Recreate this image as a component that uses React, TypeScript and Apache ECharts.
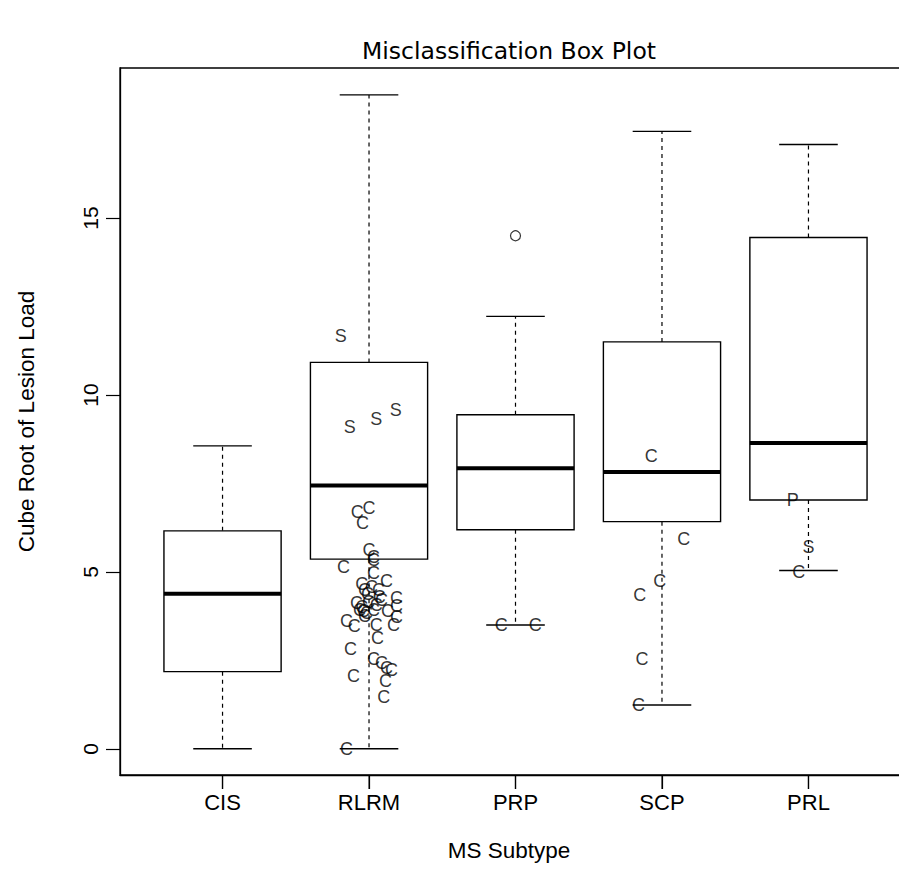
import React, { useEffect, useRef } from "react";
import * as echarts from "echarts";

const categories = ["CIS", "RLRM", "PRP", "SCP", "PRL"];
const whiskerLow = [0, 0, 3.5, 1.24, 5.04];
const q1 = [2.18, 5.36, 6.19, 6.42, 7.03];
const median = [4.38, 7.44, 7.93, 7.82, 8.64];
const q3 = [6.16, 10.92, 9.44, 11.5, 14.45];
const whiskerHigh = [8.56, 18.48, 12.22, 17.45, 17.08];
const outliers = [[3, 14.5]];

const yTicks = [0, 5, 10, 15];
const xTicks = [1, 2, 3, 4, 5];
const Y_MIN = -0.74;
const Y_MAX = 19.24;

const cPoints = [
  [1.92, 6.69], [2.0, 6.81], [1.955, 6.38], [2.0, 5.62], [2.03, 5.42], [2.03, 5.34],
  [1.826, 5.14], [2.03, 4.97], [2.12, 4.75], [1.95, 4.66], [2.017, 4.58], [1.97, 4.49],
  [2.065, 4.49], [1.99, 4.38], [2.07, 4.29], [2.187, 4.27], [2.085, 4.21], [1.914, 4.12],
  [1.996, 4.15], [2.05, 4.07], [2.187, 4.04], [2.126, 3.9], [1.935, 3.93], [1.962, 3.9],
  [1.983, 3.84], [2.03, 3.93], [2.187, 3.73], [1.846, 3.62], [1.9, 3.47], [2.05, 3.5],
  [2.167, 3.5], [2.058, 3.14], [1.873, 2.82], [2.03, 2.54], [2.085, 2.43], [2.12, 2.29],
  [2.153, 2.23], [1.894, 2.06], [2.112, 1.92], [2.1, 1.47], [1.846, 0], [1.95, 4.01],
  [1.97, 3.76],
  [2.903, 3.5], [3.135, 3.5],
  [3.927, 8.28], [4.148, 5.92], [3.984, 4.75], [3.848, 4.35], [3.863, 2.54], [3.84, 1.24],
  [4.933, 5.01],
];
const sPoints = [[1.807, 11.67], [1.869, 9.1], [2.05, 9.31], [2.183, 9.58], [5.0, 5.71]];
const pPoints = [[4.892, 7.03]];

const FONT = "'Liberation Sans', Arial, Helvetica, sans-serif";

function letterSeries(data: number[][], ch: string) {
  return {
    type: "scatter",
    data,
    symbolSize: 1,
    itemStyle: { color: "rgba(0,0,0,0)" },
    label: {
      show: true,
      position: "inside",
      formatter: ch,
      fontSize: 18,
      color: "#000",
      fontFamily: FONT,
    },
    z: 5,
    silent: true,
  };
}

export default function App() {
  const ref = useRef<HTMLDivElement>(null);
  useEffect(() => {
    if (!ref.current) return;
    const chart = echarts.init(ref.current, null, { renderer: "svg" });
    const boxData = categories.map((c, i) => [
      xTicks[i], whiskerLow[i], q1[i], median[i], q3[i], whiskerHigh[i],
    ]);
    const tickMarks = xTicks.map((t) => [t, Y_MIN]);
    const option: any = {
      animation: false,
      backgroundColor: "#fff",
      title: {
        text: "Misclassification Box Plot",
        left: 504,
        textAlign: "center",
        top: 34,
        textStyle: { fontFamily: "'DejaVu Sans', sans-serif", fontWeight: "normal", fontSize: 23.5, color: "#000" },
      },
      grid: {
        left: 120, top: 68, width: 791, height: 707,
        show: true, borderColor: "#000", borderWidth: 1.3, backgroundColor: "#fff",
      },
      xAxis: {
        type: "value", min: 0.3, max: 5.7, position: "bottom",
        axisLine: { show: true, onZero: false, lineStyle: { color: "#000", width: 1.3 } },
        splitLine: { show: false },
        axisTick: { show: true, inside: false, customValues: xTicks, length: 14, lineStyle: { color: "#000", width: 1.2 } },
        axisLabel: {
          customValues: xTicks,
          formatter: (v: number) => categories[Math.round(v) - 1] ?? "",
          margin: 16, fontSize: 22, color: "#000", fontFamily: FONT,
        },
        name: "MS Subtype", nameLocation: "middle", nameGap: 64,
        nameTextStyle: { fontSize: 22.5, color: "#000", fontFamily: FONT, padding: [0, 13, 0, 0] },
      },
      yAxis: {
        type: "value", min: Y_MIN, max: Y_MAX, position: "left",
        axisLine: { show: true, onZero: false, lineStyle: { color: "#000", width: 1.3 } },
        splitLine: { show: false },
        axisTick: { show: true, inside: false, customValues: yTicks, length: 14, lineStyle: { color: "#000", width: 1.2 } },
        axisLabel: {
          customValues: yTicks, rotate: 90, margin: 19,
          fontSize: 21, color: "#000", fontFamily: FONT,
        },
        name: "Cube Root of Lesion Load", nameLocation: "middle", nameGap: 82,
        nameTextStyle: { fontSize: 22.5, color: "#000", fontFamily: FONT },
      },
      series: [
        {
          type: "scatter",
          data: tickMarks,
          symbol: "rect",
          symbolSize: [1.3, 14],
          symbolOffset: [0, 7],
          itemStyle: { color: "#000" },
          clip: false,
          silent: true,
          z: 6,
        },
        {
          type: "custom",
          data: boxData,
          encode: { x: 0, y: [1, 2, 3, 4, 5] },
          silent: true,
          clip: false,
          z: 2,
          renderItem: (params: any, api: any) => {
            const x = api.value(0);
            const pLo = api.coord([x, api.value(1)]);
            const pQ1 = api.coord([x, api.value(2)]);
            const pMed = api.coord([x, api.value(3)]);
            const pQ3 = api.coord([x, api.value(4)]);
            const pHi = api.coord([x, api.value(5)]);
            const hw = api.size([0.4, 0])[0];
            const cw = api.size([0.2, 0])[0];
            const cx = pMed[0];
            const stroke = "#000";
            return {
              type: "group",
              children: [
                { type: "line", shape: { x1: cx, y1: pQ3[1], x2: cx, y2: pHi[1] }, style: { stroke, lineWidth: 1.2, lineDash: [4, 4] } },
                { type: "line", shape: { x1: cx, y1: pQ1[1], x2: cx, y2: pLo[1] }, style: { stroke, lineWidth: 1.2, lineDash: [4, 4] } },
                { type: "line", shape: { x1: cx - cw, y1: pHi[1], x2: cx + cw, y2: pHi[1] }, style: { stroke, lineWidth: 1.4 } },
                { type: "line", shape: { x1: cx - cw, y1: pLo[1], x2: cx + cw, y2: pLo[1] }, style: { stroke, lineWidth: 1.4 } },
                { type: "rect", shape: { x: cx - hw, y: pQ3[1], width: 2 * hw, height: pQ1[1] - pQ3[1] }, style: { fill: "#fff", stroke, lineWidth: 1.4 } },
                { type: "line", shape: { x1: cx - hw, y1: pMed[1], x2: cx + hw, y2: pMed[1] }, style: { stroke, lineWidth: 4 } },
              ],
            };
          },
        },
        {
          type: "scatter",
          data: outliers,
          symbol: "circle",
          symbolSize: 10,
          itemStyle: { color: "rgba(0,0,0,0)", borderColor: "#000", borderWidth: 1.2 },
          z: 5,
          silent: true,
        },
        letterSeries(cPoints, "C"),
        letterSeries(sPoints, "S"),
        letterSeries(pPoints, "P"),
      ],
    };
    chart.setOption(option);
    return () => chart.dispose();
  }, []);
  return (
    <div style={{ position: "absolute", left: 0, top: 0, width: 899, height: 888, overflow: "hidden", background: "#fff" }}>
      <div ref={ref} style={{ width: 940, height: 888 }} />
    </div>
  );
}
